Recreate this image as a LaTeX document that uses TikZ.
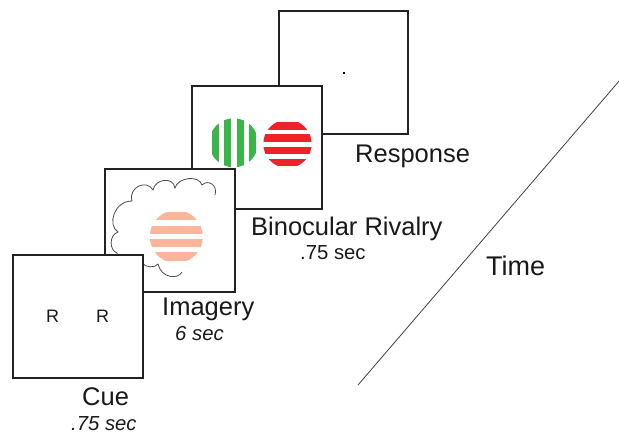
\documentclass[tikz,border=0pt]{standalone}
\usepackage{fontspec}
\setmainfont{Liberation Sans}
\definecolor{stripegreen}{HTML}{3BB54A}
\definecolor{stripered}{HTML}{EE2229}
\definecolor{salmon}{HTML}{FBB59A}
\definecolor{framecol}{HTML}{222222}
\begin{document}
\begin{tikzpicture}[x=1pt,y=-1pt,
  frame/.style={draw=framecol, line width=1.1pt, fill=white, minimum width=130pt, minimum height=123pt, inner sep=0pt, outer sep=0pt, anchor=north west},
  lbl/.style={inner sep=0pt, anchor=base west, font=\fontsize{25.5}{30}\selectfont, text=black!90},
  sublbl/.style={inner sep=0pt, anchor=base west, font=\fontsize{20.3}{24}\selectfont, text=black!90},
  letter/.style={inner sep=0pt, anchor=base west, font=\fontsize{18}{22}\selectfont, text=black!90},
  cloudline/.style={draw=black!70, line width=0.8pt},
  timeline/.style={draw=black!75, line width=0.8pt}]
\useasboundingbox (0,0) rectangle (619,434);
\fill[white] (0,0) rectangle (619,434);

% Response frame
\node[frame, minimum width=129pt] (resp) at (279,11) {};
\fill[black] (343,72) rectangle (345,74);

% Binocular rivalry frame
\node[frame] (bino) at (192,86) {};
\begin{scope}
  \clip (233.7,142.8) circle[radius=24.5pt];
  \foreach \xx in {212,224.3,236.6,248.9}
    \fill[stripegreen] (\xx,115) rectangle (\xx+7,172);
\end{scope}
\begin{scope}
  \clip (287.5,143.8) circle[radius=24.2pt];
  \foreach \yy in {122,134.3,146.6,158.9}
    \fill[stripered] (260,\yy) rectangle (315,\yy+7.5);
\end{scope}

% Imagery frame
\node[frame] (imag) at (105,169) {};
\draw[cloudline] (182,272) .. controls (178,280) and (161,278) .. (158,264)
  .. controls (155,268) and (146,268) .. (142,263)
  .. controls (130,268) and (118,262) .. (117,253)
  .. controls (109,250) and (109,235) .. (118,232)
  .. controls (107,225) and (114,201) .. (132,201)
  .. controls (128,187) and (147,179) .. (153,190)
  .. controls (155,179) and (173,176) .. (175,188)
  .. controls (178,177) and (199,175) .. (202,185)
  .. controls (208,179) and (218,185) .. (215,195);
\begin{scope}
  \clip (176.3,236.7) circle[radius=26.5pt];
  \foreach \yy in {212,225.5,239,252.3}
    \fill[salmon] (145,\yy) rectangle (208,\yy+8.2);
\end{scope}

% Cue frame
\node[frame] (cue) at (13,255) {};
\node[letter] (r1) at (46,322) {R};
\node[letter] (r2) at (96,322) {R};

% Labels
\node[lbl] (lresp) at (355,162) {Response};
\node[lbl] (lbino) at (251,235) {Binocular Rivalry};
\node[sublbl] (tbino) at (300,259) {.75 sec};
\node[lbl] (limag) at (162,315) {Imagery};
\node[sublbl, font=\fontsize{20.3}{24}\selectfont\itshape] (timag) at (175,340) {6 sec};
\node[lbl] (lcue) at (82,405) {Cue};
\node[sublbl, font=\fontsize{20.3}{24}\selectfont\itshape] (tcue) at (71,430) {.75 sec};
\node[lbl, font=\fontsize{27}{32}\selectfont] (ltime) at (486,275) {Time};

% Time line
\coordinate (t1) at (358,385);
\coordinate (t2) at (620,80);
\draw[timeline] (t1) -- (t2);
\end{tikzpicture}
\end{document}
